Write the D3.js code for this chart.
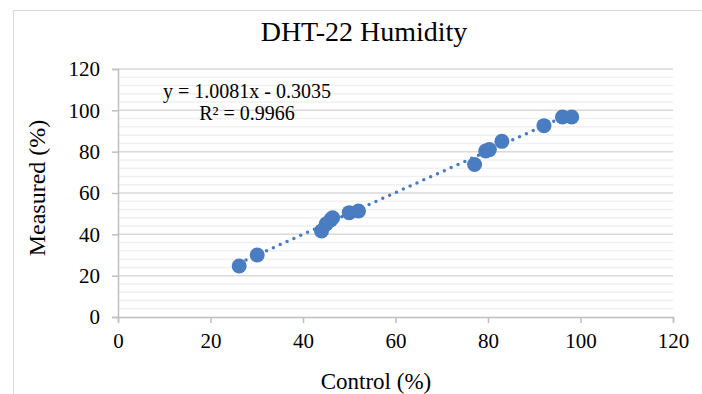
<!DOCTYPE html>
<html>
<head>
<meta charset="utf-8">
<script src="https://cdn.jsdelivr.net/npm/d3@7"></script>
<style>
  body { margin: 0; background: #fff; }
  svg text { font-family: "Liberation Serif", "Times New Roman", serif; fill: #000; }
</style>
</head>
<body>
<div id="chart"></div>
<script>
// readings
const controlVals  = [26.2, 30.1, 44.0, 45.0, 46.0, 46.4, 50.0, 52.0, 77.1, 79.5, 80.3, 83.0, 92.1, 96.1, 98.1];
const measuredVals = [24.7, 30.0, 41.6, 45.0, 47.0, 48.0, 50.5, 51.3, 73.8, 80.3, 81.0, 85.0, 92.6, 96.8, 96.8];
const xTicks = [0, 20, 40, 60, 80, 100, 120];
const yTicks = [0, 20, 40, 60, 80, 100, 120];
const slope = 1.0081, intercept = -0.3035;
const eqLabel = "y = 1.0081x - 0.3035";
const r2Label = "R\u00B2 = 0.9966";

var width = 702, height = 394;
var plot = {left: 118, right: 673, top: 69, bottom: 317};
var serif = "'Liberation Serif', 'Times New Roman', serif";

var svg = d3.select("#chart").append("svg")
  .attr("width", width)
  .attr("height", height)
  .attr("font-family", serif);

// outer chart frame
svg.append("rect")
  .attr("x", 13.5).attr("y", 10.5)
  .attr("width", 720).attr("height", 420)
  .attr("fill", "none")
  .attr("stroke", "#d9d9d9");

var x = d3.scaleLinear().domain([0, 120]).range([plot.left, plot.right]);
var y = d3.scaleLinear().domain([0, 120]).range([plot.bottom, plot.top]);

// minor gridlines every 4
var minor = d3.range(4, 120, 4).filter(d => d % 20 !== 0);
svg.append("g").selectAll("line").data(minor).enter().append("line")
  .attr("x1", plot.left).attr("x2", plot.right)
  .attr("y1", d => y(d)).attr("y2", d => y(d))
  .attr("stroke", "#f0f0f0").attr("stroke-width", 1.5);

// major gridlines
svg.append("g").selectAll("line").data(yTicks.filter(d => d > 0)).enter().append("line")
  .attr("x1", plot.left).attr("x2", plot.right)
  .attr("y1", d => y(d)).attr("y2", d => y(d))
  .attr("stroke", "#d9d9d9").attr("stroke-width", 1.5);

// axes
var xAxis = svg.append("g")
  .attr("transform", "translate(0," + plot.bottom + ")")
  .call(d3.axisBottom(x).tickValues(xTicks).tickSize(6).tickPadding(10));
var yAxis = svg.append("g")
  .attr("transform", "translate(" + plot.left + ",0)")
  .call(d3.axisLeft(y).tickValues(yTicks).tickSize(6).tickPadding(12));

[xAxis, yAxis].forEach(function(a) {
  a.attr("font-family", null).attr("font-size", null);
  a.select(".domain").attr("stroke", "#bfbfbf").attr("stroke-width", 1.5);
  a.selectAll(".tick line").attr("stroke", "#bfbfbf").attr("stroke-width", 1.5);
  a.selectAll(".tick text")
    .attr("fill", "#000")
    .style("font-family", serif)
    .style("font-size", "21px");
});

// trendline
var tx = d3.extent(controlVals);
var line = d3.line().x(d => x(d)).y(d => y(slope * d + intercept));
svg.append("path")
  .attr("d", line(tx))
  .attr("fill", "none")
  .attr("stroke", "#4a7cc2")
  .attr("stroke-width", 3.5)
  .attr("stroke-linecap", "round")
  .attr("stroke-dasharray", "0 7.5");

// points
svg.append("g").selectAll("circle")
  .data(controlVals.map((c, i) => [c, measuredVals[i]]))
  .enter().append("circle")
  .attr("cx", d => x(d[0]))
  .attr("cy", d => y(d[1]))
  .attr("r", 7.5)
  .attr("fill", "#4a7cc2");

// equation
svg.append("text").attr("x", 247).attr("y", 98)
  .attr("text-anchor", "middle").attr("font-size", 20).text(eqLabel);
svg.append("text").attr("x", 247).attr("y", 120)
  .attr("text-anchor", "middle").attr("font-size", 20).text(r2Label);

// titles
svg.append("text").attr("x", 364).attr("y", 41)
  .attr("text-anchor", "middle").attr("font-size", 28).text("DHT-22 Humidity");
svg.append("text").attr("x", 376).attr("y", 389)
  .attr("text-anchor", "middle").attr("font-size", 23).text("Control (%)");
svg.append("text")
  .attr("transform", "translate(45,188) rotate(-90)")
  .attr("text-anchor", "middle").attr("font-size", 24).text("Measured (%)");
</script>
</body>
</html>
